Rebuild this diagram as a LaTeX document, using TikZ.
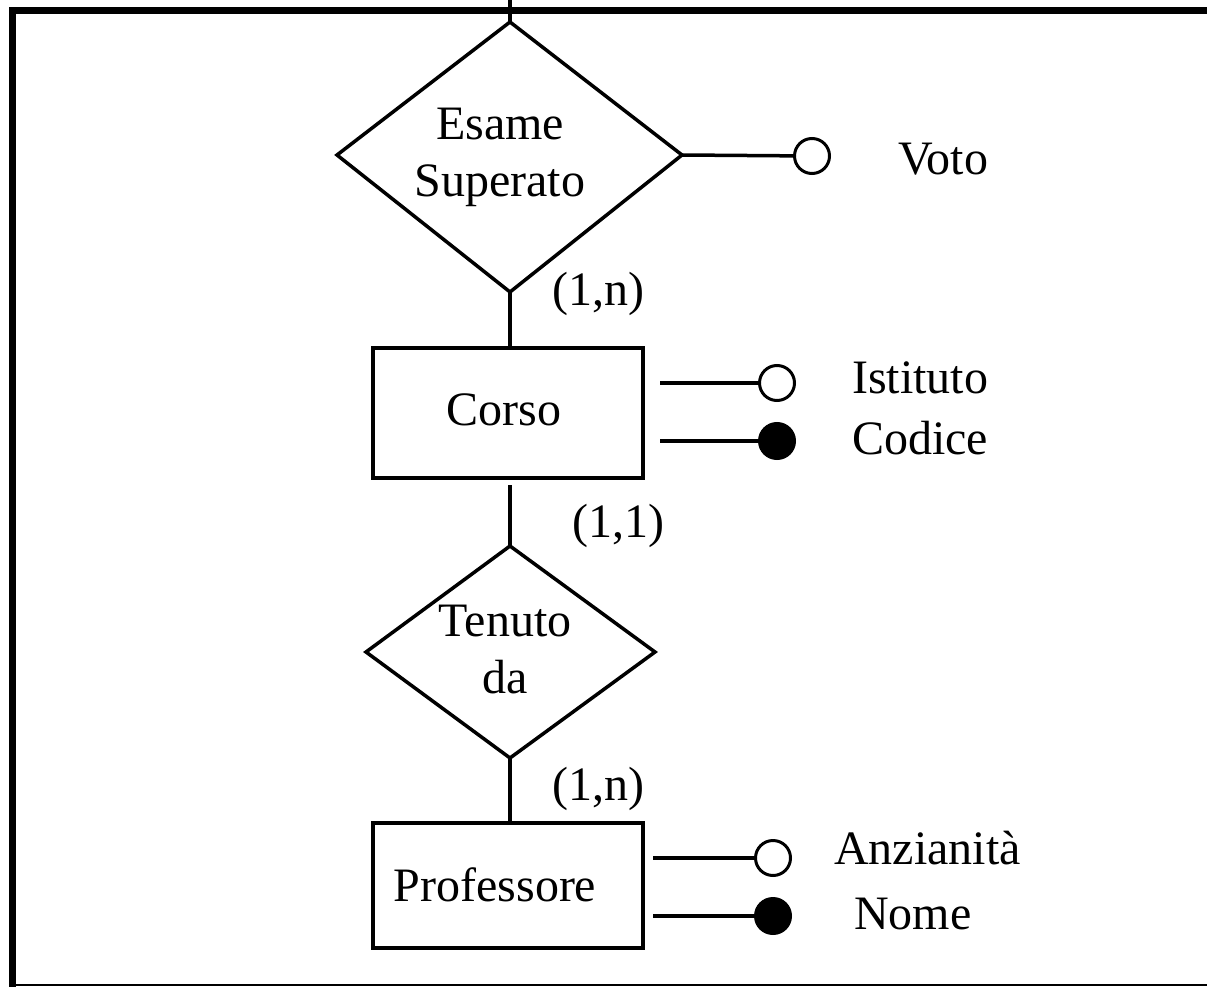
\documentclass[tikz,border=0pt]{standalone}
\usepackage{fontspec}
\setmainfont{Liberation Serif}
\usetikzlibrary{shapes.geometric}
\begin{document}
\begin{tikzpicture}[x=1pt,y=-1pt,
  ln/.style={line width=3.5pt},
  lbl/.style={font=\fontsize{48}{57}\selectfont, inner sep=0pt, align=center},
  attr/.style={circle, draw, line width=3pt, minimum size=35pt, inner sep=0pt, fill=white},
  key/.style={attr, fill=black}]
\useasboundingbox (0,0) rectangle (1207,987);
% frame
\draw[line width=7pt] (1207,11) -- (12,11) -- (12,987);
\draw[line width=1.5pt] (12,985) -- (1207,985);
% top connector
\coordinate (top) at (510,0);
% diamonds
\coordinate (d1t) at (510,22); \coordinate (d1b) at (510,292);
\coordinate (d1l) at (337,155); \coordinate (d1r) at (682,155);
\draw[ln, line join=miter] (d1t) -- (d1r) -- (d1b) -- (d1l) -- cycle;
\node[lbl] (esame) at (500,157) {Esame\\Superato};
\coordinate (d2t) at (510,546); \coordinate (d2b) at (510,758);
\coordinate (d2l) at (366,652); \coordinate (d2r) at (655,652);
\draw[ln, line join=miter] (d2t) -- (d2r) -- (d2b) -- (d2l) -- cycle;
\node[lbl] (tenuto) at (505,650) {Tenuto\\da};
% entities
\node[draw, ln, minimum width=270pt, minimum height=130pt, inner sep=0pt] (corso) at (508,413) {};
\node[lbl] (corsot) at (504,410) {Corso};
\node[draw, ln, minimum width=270pt, minimum height=125pt, inner sep=0pt] (prof) at (508,885.5) {};
\node[lbl] (proft) at (495,885) {Professore};
% vertical connectors
\draw[ln] (top) -- (d1t);
\draw[ln] (d1b) -- (corso.north -| d1b);
\coordinate (c2) at (510,485);
\draw[ln] (c2) -- (d2t);
\draw[ln] (d2b) -- (prof.north -| d2b);
% cardinalities
\node[lbl] (c1) at (598,294) {(1,n)};
\node[lbl] (c11) at (618,526) {(1,1)};
\node[lbl] (c3) at (598,789) {(1,n)};
% attributes
\node[attr] (voto) at (812,156) {};
\draw[ln] (d1r) -- (voto);
\node[lbl, anchor=west] (votot) at (898,159) {Voto};

\coordinate (ci1) at (660,383); \coordinate (ci2) at (660,441);
\node[attr] (ist) at (777,383) {};
\node[key] (cod) at (777,441) {};
\draw[ln] (ci1) -- (ist);
\draw[ln] (ci2) -- (cod);
\node[lbl, anchor=west] (istt) at (852,378) {Istituto};
\node[lbl, anchor=west] (codt) at (852,438) {Codice};

\coordinate (pi1) at (653,858); \coordinate (pi2) at (653,916);
\node[attr] (anz) at (773,858) {};
\node[key] (nome) at (773,916) {};
\draw[ln] (pi1) -- (anz);
\draw[ln] (pi2) -- (nome);
\node[lbl, anchor=west] (anzt) at (834,848) {Anzianità};
\node[lbl, anchor=west] (nomet) at (854,914) {Nome};
\end{tikzpicture}
\end{document}
